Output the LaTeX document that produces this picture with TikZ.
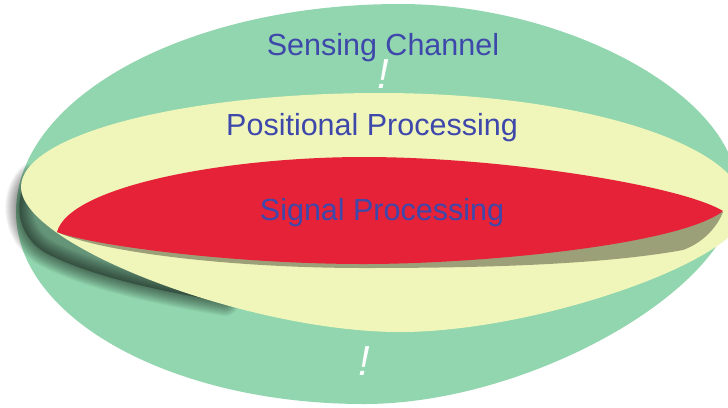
\documentclass[tikz,border=0pt]{standalone}
\usepackage{fontspec}
\setmainfont{Liberation Sans}
\definecolor{greenc}{RGB}{145,214,174}
\definecolor{yellowc}{RGB}{240,245,186}
\definecolor{redc}{RGB}{230,34,56}
\definecolor{olivec}{RGB}{156,160,120}
\definecolor{textblue}{RGB}{62,72,170}
\begin{document}
\begin{tikzpicture}[x=1bp,y=-1bp,
  lbl/.style={text=textblue, font=\fontsize{30.5bp}{36bp}\selectfont, inner sep=0pt, anchor=base},
  excl/.style={text=white, font=\fontsize{42bp}{48bp}\selectfont\itshape, inner sep=0pt, anchor=base},
  shadowblur/.style={draw=black, line join=round, line cap=round, draw opacity=0.04, line width=#1}]
\useasboundingbox (0,0) rectangle (728,407);
\clip (0,0) rectangle (728,407);
\fill[white] (0,0) rectangle (728,407);
% outer green layer
\fill[greenc] (16,212) .. controls (16,97) and (188,4) .. (400,4)
  .. controls (568,4) and (737,97) .. (737,190)
  .. controls (737,286) and (532,404) .. (364,404)
  .. controls (172,404) and (16,318) .. (16,212) -- cycle;
% blurred shadow under the yellow layer
\def\shadowpath{(30,178) .. controls (12,198) and (16,236) .. (46,253) .. controls (82,272) and (140,288) .. (225,302) -- (200,280) -- (100,235) -- (42,188) -- cycle}
\foreach \w in {2,4,...,28}
  \path[shadowblur=\w bp] \shadowpath;
\fill[black, opacity=0.3] \shadowpath;
% yellow layer
\fill[yellowc] (21,187) .. controls (21,135) and (182,93) .. (380,93)
  .. controls (582,93) and (746,145) .. (746,210)
  .. controls (746,259) and (538,332) .. (400,332)
  .. controls (248,332) and (21,245) .. (21,187) -- cycle;
% olive edge under red
\fill[olivec] (57,232) .. controls (100,252) and (230,268) .. (364,268)
  .. controls (480,268) and (600,265) .. (683,250)
  .. controls (705,242) and (718,225) .. (723,212)
  -- (600,215) -- (200,235) -- cycle;
% red layer
\fill[redc] (57,232) .. controls (70,185) and (230,157) .. (364,157)
  .. controls (500,157) and (680,185) .. (723,211)
  .. controls (680,245) and (480,264) .. (364,264)
  .. controls (230,264) and (90,245) .. (57,232) -- cycle;
% labels
\node[lbl] (sensing) at (383,55) {Sensing Channel};
\node[lbl] (positional) at (372,135) {Positional Processing};
\node[lbl] (signal) at (382,220) {Signal Processing};
\node[excl] (ex1) at (383,88) {!};
\node[excl] (ex2) at (364,375) {!};
\end{tikzpicture}
\end{document}
